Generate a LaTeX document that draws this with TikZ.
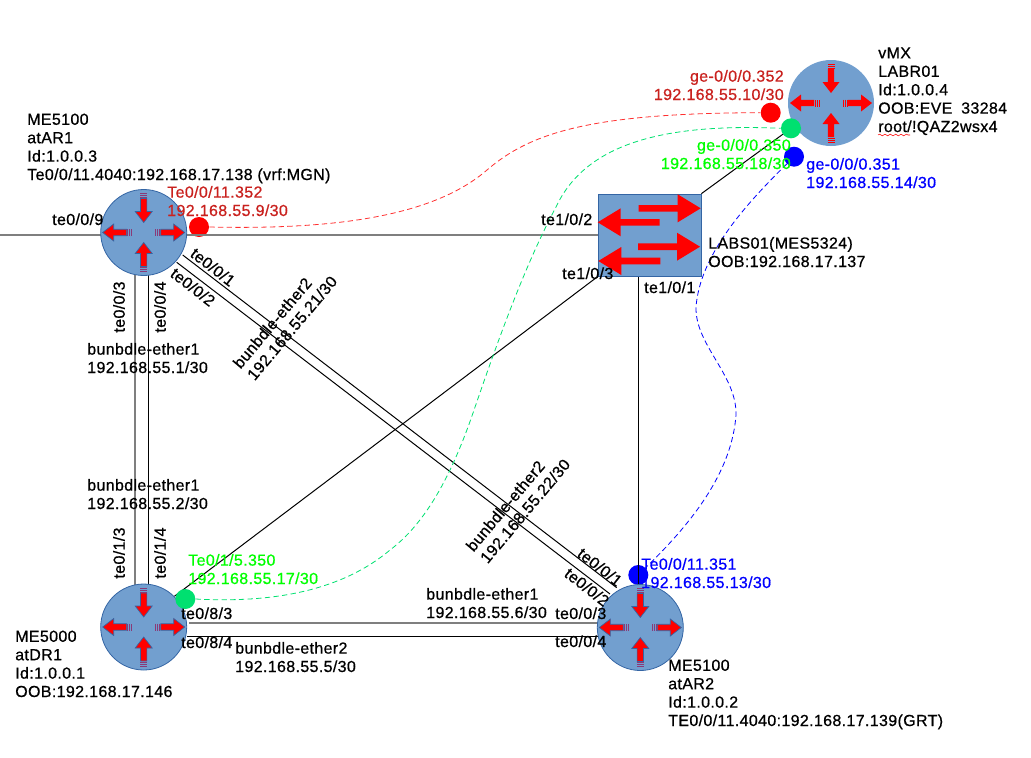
\documentclass[tikz,border=0pt]{standalone}
\usepackage{fontspec}
\setmainfont{Liberation Sans}[LetterSpace=2.2,FakeBold=0.7]
\usetikzlibrary{calc,backgrounds,decorations.pathmorphing}
\definecolor{shapefill}{HTML}{729FCF}
\definecolor{shapeline}{HTML}{3465A4}
\definecolor{dotgreen}{HTML}{00E070}
\definecolor{labelred}{HTML}{C9211E}
\definecolor{labelgreen}{HTML}{00FF00}
\definecolor{stripemix}{HTML}{8A3A78}
\definecolor{linkgrey}{HTML}{7F7F7F}
\definecolor{dashred}{HTML}{FF3030}
\tikzset{
  lbl/.style={font=\fontsize{12}{13.8}\selectfont,inner sep=0pt,align=left,anchor=base west},
  lblr/.style={lbl,align=right,anchor=base east},
  lblc/.style={lbl,anchor=center},
  port/.style={circle,inner sep=0pt,minimum size=15pt},
  link/.style={line width=.75pt},
  linkg/.style={line width=1.3pt,linkgrey},
  session/.style={line width=.6pt,dash pattern=on 4pt off 2.5pt},
  flowarrow/.pic={
    \path[fill=red,line width=.5pt,pic actions] (0,0) -- (-11,8.5) -- (-11,3.2) -- (-24,3.2) -- (-24,-3.2) -- (-11,-3.2) -- (-11,-8.5) -- cycle;
    \foreach \xx in {-25,-27,-29} \draw[#1,line width=.75pt] (\xx,-3.5) -- (\xx,3.5);
  },
  swarrow/.pic={
    \fill[red] (0,0) -- (-23,14) -- (-23,3.3) -- (-62,3.3) -- (-62,-3.3) -- (-23,-3.3) -- (-23,-14) -- cycle;
  }
}
% name, position, outline, stripes
\newcommand*{\routernode}[4]{
  \node[circle,inner sep=0pt,minimum size=64.5pt,fill=shapefill,draw=#3,line width=.6pt] (#1) at (#2) {};
  \pic[draw=#3,rotate=-90] at ($(#1)+(0,-10)$) {flowarrow=#4};
  \pic[draw=#3,rotate=90] at ($(#1)+(0,10)$) {flowarrow=#4};
  \pic[draw=#3,rotate=180] at ($(#1)+(-41,0)$) {flowarrow=#4};
  \pic[draw=#3] at ($(#1)+(41,0)$) {flowarrow=#4};
}

\begin{document}
\begin{tikzpicture}[x=.75pt,y=-.75pt]
\useasboundingbox (0,0) rectangle (1031,757);

% Routers and switch
\routernode{AR1}{143.7,232.5}{shapeline}{stripemix}
\routernode{DR1}{143.7,627}{shapeline}{stripemix}
\routernode{AR2}{640.3,627.5}{shapeline}{stripemix}
\routernode{vMX}{831,103}{none}{red}
\node[rectangle,inner sep=0pt,minimum width=77pt,minimum height=61.5pt,fill=shapefill,draw=shapeline,line width=.5pt] (LABS01) at (649.7,235) {};
\pic at (700.7,208.3) {swarrow};
\pic[rotate=180] at (597.7,222.3) {swarrow};
\pic at (700,246.7) {swarrow};
\pic[rotate=180] at (598.3,261) {swarrow};

\coordinate (westend) at (0,235);

% Links lie below the routers
\begin{scope}[on background layer]
\node[port,fill=red] (dotAR1) at (199,227) {};
\node[port,fill=blue] (dotAR2) at (638.3,575) {};
\draw[linkg] (westend) -- ($(AR1)+(0,2.5)$);
\draw[linkg] ($(AR1)+(0,2.5)$) -- (LABS01.west |- westend);
\draw[linkg] ($(AR1)+(-8.7,0)$) -- ($(DR1)+(-8.7,0)$);
\draw[link] ($(AR1)+(4.8,0)$) -- ($(DR1)+(4.8,0)$);
\draw[link] ($(AR1)+(39,22.5)$) -- ($(AR2)+(-23.6,-39.8)$);
\draw[link] ($(AR1)+(33,29.8)$) -- ($(AR2)+(-30.3,-33.5)$);
\draw[link] (DR1.north east) -- (LABS01.south west);
\draw[link] ($(LABS01.south)+(-11.2,0)$) -- ($(AR2)+(-1.8,0)$);
\draw[linkg] ($(DR1.east)+(2,-4)$) -- ($(AR2)+(0,-4.5)$);
\draw[link] ($(DR1.east)+(0,9.5)$) -- ($(AR2)+(0,9)$);
\end{scope}

% Ports
\node[port,fill=dotgreen] (dotDR1) at (185.3,599) {};
\node[port,fill=red] (dotR) at (770.7,112.7) {};
\node[port,fill=blue] (dotB) at (794,156.7) {};
\coordinate (dotGc) at (791,128.3);
\draw[link] (LABS01.north east) -- (dotGc);
\node[port,fill=dotgreen] (dotG) at (dotGc) {};

% Dashed sessions
\draw[dashred,session] (dotAR1.east) .. controls (340,230) and (435,215) .. (487,170) .. controls (530,133) and (590,113) .. (dotR.west);
\draw[dotgreen,session] (dotDR1.east) .. controls (270,603) and (340,592) .. (390,550) .. controls (430,520) and (455,465) .. (473,413) .. controls (498,340) and (525,265) .. (556,207) .. controls (585,145) and (660,123) .. (dotG.west);
\draw[blue,session] (dotB.south west) .. controls (745,205) and (700,255) .. (696,307) .. controls (695,345) and (737,375) .. (736,415) .. controls (732,470) and (695,520) .. (dotAR2.north east);

% Device labels
\node[lbl] (txtAR1) at (27,180) {ME5100\\atAR1\\Id:1.0.0.3\\Te0/0/11.4040:192.168.17.138 (vrf:MGN)};
\node[lbl] (txtDR1) at (15,697) {ME5000\\atDR1\\Id:1.0.0.1\\OOB:192.168.17.146};
\node[lbl] (txtAR2) at (668,726) {ME5100\\atAR2\\Id:1.0.0.2\\TE0/0/11.4040:192.168.17.139(GRT)};
\node[lbl] (txtvMX) at (878,132) {vMX\\LABR01\\Id:1.0.0.4\\OOB:EVE\hspace{3pt} 33284\\root/!QAZ2wsx4};
\node[lbl] (txtLABS) at (708,267) {LABS01(MES5324)\\OOB:192.168.17.137};
\coordinate (squigA) at (878,135);
\coordinate (squigB) at (910,135);
\draw[red,line width=.4pt,decorate,decoration={snake,amplitude=.6pt,segment length=4pt}] (squigA) -- (squigB);

% Coloured address labels
\node[lbl,text=labelred] (ipAR1) at (167,216) {Te0/0/11.352\\192.168.55.9/30};
\node[lblr,text=labelred] (ipR) at (784,100) {ge-0/0/0.352\\192.168.55.10/30};
\node[lblr,text=labelgreen] (ipG) at (791,169) {ge-0/0/0.350\\192.168.55.18/30};
\node[lbl,text=blue] (ipB) at (806,188) {ge-0/0/0.351\\192.168.55.14/30};
\node[lbl,text=labelgreen] (ipDR1) at (188,584) {Te0/1/5.350\\192.168.55.17/30};
\node[lbl,text=blue] (ipAR2) at (641,588) {Te0/0/11.351\\192.168.55.13/30};

% Bundle labels
\node[lbl] (be1a) at (87,373) {bunbdle-ether1\\192.168.55.1/30};
\node[lbl] (be1b) at (87,509) {bunbdle-ether1\\192.168.55.2/30};
\node[lbl] (be1c) at (426,618) {bunbdle-ether1\\192.168.55.6/30};
\node[lbl] (be2c) at (235,672) {bunbdle-ether2\\192.168.55.5/30};
\node[lblc,rotate=50] (be2a) at (285,322) {bunbdle-ether2\\192.168.55.21/30};
\node[lblc,rotate=50] (be2b) at (518,505) {bunbdle-ether2\\192.168.55.22/30};

% Interface labels
\node[lbl] (if09) at (52,225) {te0/0/9};
\node[lblc,rotate=90] (if03) at (119,307) {te0/0/3};
\node[lblc,rotate=90] (if04) at (160,307) {te0/0/4};
\node[lblc,rotate=-38] (if01) at (213,267) {te0/0/1};
\node[lblc,rotate=-38] (if02) at (193,287) {te0/0/2};
\node[lblc,rotate=90] (if13) at (119,553) {te0/1/3};
\node[lblc,rotate=90] (if14) at (160,553) {te0/1/4};
\node[lbl] (if83) at (181,619) {te0/8/3};
\node[lbl] (if84) at (181,648) {te0/8/4};
\node[lbl] (ar03) at (555,619) {te0/0/3};
\node[lbl] (ar04) at (555,647) {te0/0/4};
\node[lblc,rotate=-38] (ar01) at (600,567) {te0/0/1};
\node[lblc,rotate=-38] (ar02) at (587,587) {te0/0/2};
\node[lbl] (sw12) at (541,225) {te1/0/2};
\node[lbl] (sw13) at (562,279) {te1/0/3};
\node[lbl] (sw11) at (644,293) {te1/0/1};
\end{tikzpicture}
\end{document}
